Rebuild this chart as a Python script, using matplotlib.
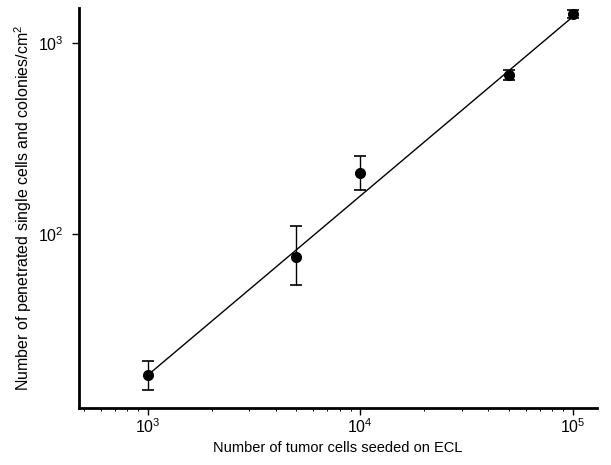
import matplotlib
matplotlib.use("Agg")
import matplotlib.pyplot as plt
from matplotlib.ticker import LogLocator, NullFormatter, NullLocator

plt.rcParams['font.family'] = ['Liberation Sans', 'DejaVu Sans']
plt.rcParams['mathtext.fontset'] = 'custom'
plt.rcParams['mathtext.rm'] = 'Liberation Sans'

# Data
cells_seeded = [1e3, 5e3, 1e4, 5e4, 1e5]
penetrated = [18.3, 76, 208, 679, 1419]
err_low = [3.1, 22, 38, 39, 67]
err_high = [3.3, 34, 48, 43, 71]
fit_x = [1e3, 1e5]
fit_y = [18.3, 1370]

xlabel = "Number of tumor cells seeded on ECL"
ylabel = "Number of penetrated single cells and colonies/cm$^2$"

fig = plt.figure(figsize=(6.11, 4.65), dpi=100)
ax = fig.add_axes([0.129, 0.1226, 0.848, 0.8604])

ax.plot(fit_x, fit_y, color='black', lw=1.0, zorder=2)
ax.errorbar(cells_seeded, penetrated, yerr=[err_low, err_high], fmt='o',
            color='black', ms=7, elinewidth=1.0, capsize=4.5, capthick=1.2, zorder=3)

ax.set_xscale('log')
ax.set_yscale('log')
ax.set_xlim(473, 1.3e5)
ax.set_ylim(12.3, 1525)

ax.xaxis.set_major_locator(LogLocator(base=10, numticks=10))
ax.xaxis.set_minor_locator(LogLocator(base=10, subs=[2, 3, 4, 5, 6, 7, 8, 9], numticks=10))
ax.xaxis.set_minor_formatter(NullFormatter())
ax.yaxis.set_major_locator(LogLocator(base=10, numticks=10))
ax.yaxis.set_minor_locator(NullLocator())

for s in ['top', 'right']:
    ax.spines[s].set_visible(False)
ax.spines['left'].set_linewidth(2.0)
ax.spines['bottom'].set_linewidth(2.0)

ax.tick_params(axis='both', which='major', direction='out', length=5, width=1.0,
               labelsize=11.5)
ax.tick_params(axis='x', which='major', pad=2)
ax.tick_params(axis='y', which='major', pad=6)
ax.tick_params(axis='x', which='minor', direction='out', length=2, width=0.7)

ax.set_xlabel(xlabel, fontsize=10.5, labelpad=3)
ax.set_ylabel(ylabel, fontsize=11.5, labelpad=3)

fig.savefig("out.png", dpi=100)
